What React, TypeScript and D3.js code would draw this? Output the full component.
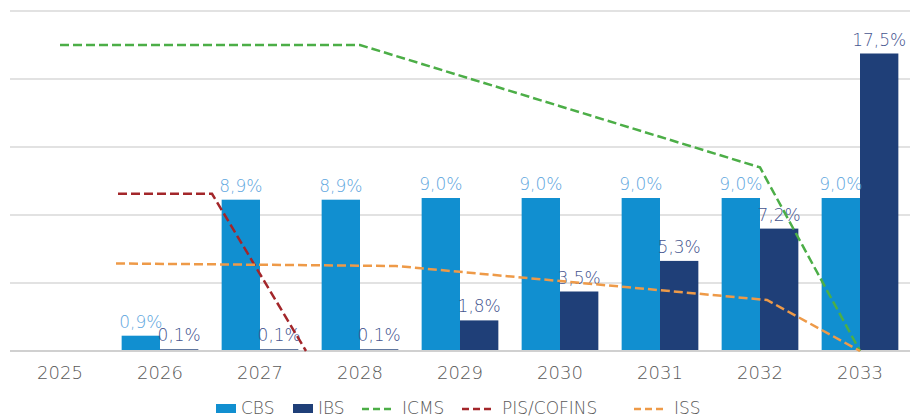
import * as d3 from 'd3';
import React from 'react';

const years = ['2025', '2026', '2027', '2028', '2029', '2030', '2031', '2032', '2033'];
const cbs: (number | null)[] = [null, 0.9, 8.9, 8.9, 9.0, 9.0, 9.0, 9.0, 9.0];
const ibs: (number | null)[] = [null, 0.1, 0.1, 0.1, 1.8, 3.5, 5.3, 7.2, 17.5];
const icms = [18, 18, 18, 18, 16.2, 14.4, 12.6, 10.8, 0];
// PIS/COFINS and ISS sit between the category centres in the source, so keep their (index, value) pairs
const pisPos = [0.58, 1.52, 2.46];
const pisVal = [9.25, 9.25, 0];
const issPos = [0.56, 3.36, 7.07, 8];
const issVal = [5.15, 5.0, 3.0, 0];
const yTicks = [4, 8, 12, 16, 20];

const W = 917;
const H = 418;
const FONT = '"DejaVu Sans", sans-serif';

const fmt = (v: number) => v.toFixed(1).replace('.', ',') + '%';

export default function App() {
  const x = d3.scaleBand().domain(years).range([10, 910]).paddingInner(0.233).paddingOuter(0.1165);
  const bw = x.bandwidth();
  const half = bw / 2;
  const center = (i: number) => (x(years[i]) as number) + half;
  const xi = d3.scaleLinear().domain([0, years.length - 1]).range([center(0), center(years.length - 1)]);
  const y = d3.scaleLinear().domain([0, 20]).range([351, 11]);

  const line = d3.line<[number, number]>().x(d => xi(d[0])).y(d => y(d[1]));
  const icmsPts = icms.map((v, i) => [i, v] as [number, number]);
  const pisPts = pisPos.map((p, i) => [p, pisVal[i]] as [number, number]);
  const issPts = issPos.map((p, i) => [p, issVal[i]] as [number, number]);

  const lines = [
    { pts: icmsPts, color: '#4cae47' },
    { pts: pisPts, color: '#a3262a' },
    { pts: issPts, color: '#ee9a48' },
  ];

  const legend = [
    { label: 'CBS', type: 'rect', color: '#118fd0', x: 216 },
    { label: 'IBS', type: 'rect', color: '#1f3f78', x: 293 },
    { label: 'ICMS', type: 'line', color: '#4cae47', x: 362 },
    { label: 'PIS/COFINS', type: 'line', color: '#a3262a', x: 462 },
    { label: 'ISS', type: 'line', color: '#ee9a48', x: 634 },
  ];

  return (
    <svg width={W} height={H} style={{ position: 'absolute', left: 0, top: 0, background: '#fff' }}>
      {/* grid */}
      {yTicks.map(t => (
        <line key={t} x1={10} x2={910} y1={y(t)} y2={y(t)} stroke="#d9d9d9" strokeWidth={1.5} />
      ))}

      {/* bars */}
      {years.map((yr, i) => (
        <g key={yr}>
          {cbs[i] != null && (
            <rect x={x(yr)} y={y(cbs[i] as number)} width={half} height={y(0) - y(cbs[i] as number)} fill="#118fd0" />
          )}
          {ibs[i] != null && (
            <rect x={(x(yr) as number) + half} y={y(ibs[i] as number)} width={half} height={y(0) - y(ibs[i] as number)} fill="#1f3f78" />
          )}
        </g>
      ))}

      <line x1={10} x2={910} y1={y(0)} y2={y(0)} stroke="#d0d0d0" strokeWidth={2} />

      {/* value labels */}
      {years.map((yr, i) => (
        <g key={'l' + yr} fontFamily={FONT} fontSize={17} fontWeight={300} textAnchor="middle">
          {cbs[i] != null && (
            <text x={(x(yr) as number) + half / 2} y={y(cbs[i] as number) - 8} fill="#5ea6de">{fmt(cbs[i] as number)}</text>
          )}
          {ibs[i] != null && (
            <text x={(x(yr) as number) + half * 1.5} y={y(ibs[i] as number) - 8} fill="#46558f">{fmt(ibs[i] as number)}</text>
          )}
        </g>
      ))}

      {/* lines */}
      {lines.map((l, i) => (
        <path key={i} d={line(l.pts) as string} fill="none" stroke={l.color} strokeWidth={2.5} strokeDasharray="9,4" />
      ))}

      {/* x axis labels */}
      {years.map((yr, i) => (
        <text key={'x' + yr} x={center(i)} y={379} textAnchor="middle" fontFamily={FONT} fontSize={18} fontWeight={300} fill="#595959">{yr}</text>
      ))}

      {/* legend */}
      {legend.map(it => (
        <g key={it.label}>
          {it.type === 'rect' ? (
            <rect x={it.x} y={404} width={20} height={9} fill={it.color} />
          ) : (
            <line x1={it.x} x2={it.x + 32} y1={409} y2={409} stroke={it.color} strokeWidth={2.5} strokeDasharray="7,4" />
          )}
          <text x={it.x + (it.type === 'rect' ? 25 : 40)} y={414} fontFamily={FONT} fontSize={17} fontWeight={300} fill="#595959">{it.label}</text>
        </g>
      ))}
    </svg>
  );
}
